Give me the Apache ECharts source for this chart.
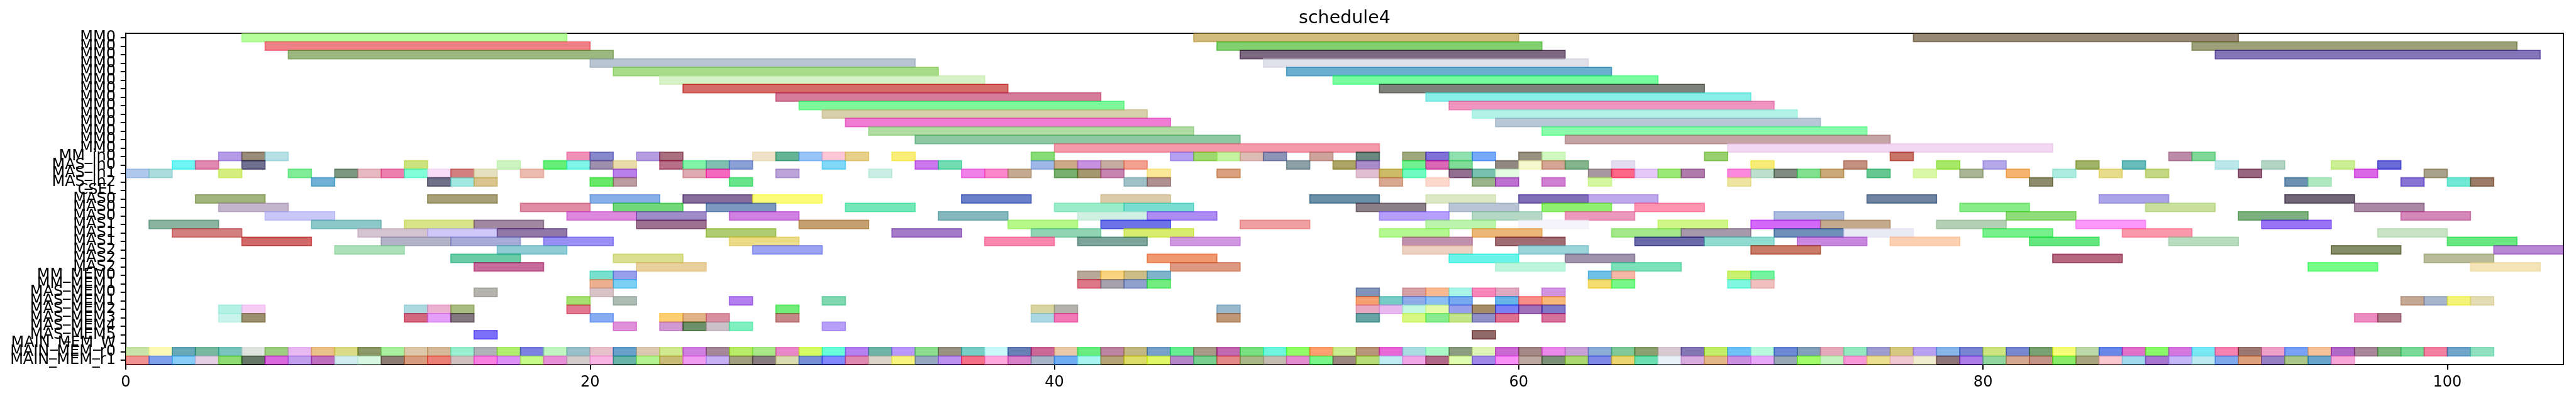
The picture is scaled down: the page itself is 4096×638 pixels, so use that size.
<!DOCTYPE html>
<html><head><meta charset="utf-8">
<script src="https://cdn.jsdelivr.net/npm/echarts@6/dist/echarts.min.js"></script>
<style>html,body{margin:0;padding:0;background:#fff}#chart{width:4096px;height:638px}</style>
</head><body><div id="chart"></div>
<script>
const chartTitle = 'schedule4';
const rowNames = ['MM0','MM0','MM0','MM0','MM0','MM0','MM0','MM0','MM0','MM0','MM0','MM0','MM0','MM0',
  'MM_in0','MAS_in0','MAS_in1','MAS_in2','CSEL','MAS0','MAS0','MAS0','MAS1','MAS1','MAS1','MAS2','MAS2','MAS2',
  'MM_MEM0','MM_MEM1','MAS_MEM0','MAS_MEM1','MAS_MEM2','MAS_MEM3','MAS_MEM4','MAS_MEM5','MAIN_MEM_W','MAIN_MEM_r0','MAIN_MEM_r1'];
const rowDurations = [14,14,14,14,14,14,14,14,14,14,14,14,14,14, 1,1,1,1,1, 3,3,3,3,3,3,3,3,3, 1,1,1,1,1,1,1,1,1,1,1];
const xTickValues = [0,20,40,60,80,100];
const xMax = 105;

const rowStarts = [
  [5,46,77],[6,47,89],[7,48,90],[20,49],[21,50],[23,52],[24,54],[28,56],[29,57],[30,58],[31,59],[32,61],[34,62],[40,69],
  [4,5,6,19,20,22,23,27,28,29,30,31,33,39,45,46,47,48,49,51,53,55,56,57,58,60,61,68,76,88,89],
  [2,3,5,12,16,18,19,20,21,23,24,25,26,30,34,35,39,40,41,42,43,50,52,53,55,56,57,59,60,61,62,64,70,74,78,80,84,86,90,92,95,97],
  [0,1,4,7,9,10,11,12,13,14,15,17,21,24,25,28,32,36,37,38,40,41,42,44,47,53,54,55,57,58,59,63,64,65,66,67,69,70,71,72,73,75,77,79,81,83,85,87,91,96,99],
  [8,13,14,15,20,21,26,43,44,54,56,58,59,61,63,69,82,93,94,98,100,101],
  [],
  [3,13,20,24,27,36,42,51,56,60,63,75,85,93],
  [4,17,21,25,31,40,43,53,57,61,65,79,87,96],
  [6,19,22,26,35,41,44,54,58,62,71,81,91,98],
  [1,8,12,15,22,29,38,42,48,56,60,66,70,73,78,84,92],
  [2,10,13,16,25,33,39,43,54,58,64,67,71,74,80,86,97],
  [5,11,14,18,26,37,41,45,55,59,65,68,72,76,82,88,100],
  [9,16,27,55,60,70,95,102],
  [14,21,44,57,62,83,99],
  [15,22,45,59,64,94,101],
  [20,21,41,42,43,44,63,64,69,70],
  [20,21,41,42,43,44,63,64,69,70],
  [15,20,53,55,56,57,58,59,61],
  [19,21,26,30,53,54,55,56,57,59,60,61,98,99,100,101],
  [4,5,12,13,14,19,28,39,40,47,53,54,55,56,57,58,59,60,61],
  [4,5,12,13,14,20,23,24,25,28,39,40,47,53,55,56,57,58,59,61,96,97],
  [21,23,24,25,26,30],
  [15,58],
  [],
  [0,1,2,3,4,5,6,7,8,9,10,11,12,13,14,15,16,17,18,19,20,21,22,23,24,25,26,27,28,29,30,31,32,33,34,35,36,37,38,39,40,41,42,43,44,45,46,47,48,49,50,51,52,53,54,55,56,57,58,59,60,61,62,63,64,65,66,67,68,69,70,71,72,73,74,75,76,77,78,79,80,81,82,83,84,85,86,87,88,89,90,91,92,93,94,95,96,97,98,99,100,101],
  [0,1,2,3,4,5,6,7,8,9,10,11,12,13,14,15,16,17,18,19,20,21,22,23,24,25,26,27,28,29,30,31,32,33,34,35,36,37,38,39,40,41,42,43,44,45,46,47,48,49,50,51,52,53,54,55,56,57,58,59,60,61,62,63,64,65,66,67,68,69,70,71,72,73,74,75,76,77,78,79,80,81,82,83,84,85,86,87,88,89,90,91,92,93,94,95]
];

const rowColors = [
  ['#b4fc9c','#d0ba7c','#968874'],['#f08088','#80d070','#9ca078'],['#9ab880','#7c6880','#8474b8'],
  ['#b8c4d0','#e0e0ea'],['#a8dc88','#6caed0'],['#d8f2c8','#78fca0'],['#d66c68','#7e827a'],
  ['#d47c9a','#8aeee8'],['#7ef89a','#f094c0'],['#d8d0ac','#b4f4e8'],['#ee7cd2','#b8c8d6'],
  ['#b0dca4','#88fcaa'],['#8ec8a4','#c4a4a4'],['#f49cac','#f2d8f2'],
  ['#b49ce8','#988c78','#b4e0e6','#f090b8','#8888cc','#b49ce0','#a87080','#f0e2c8','#66b496','#99c4f8','#fcc8d8','#e6d08a','#f8ee78','#88dc78','#b4a0f0','#a0d870','#c4f4a0','#dcbcb4','#8c94b8','#cca49c','#6a8880','#a0a880','#8070d8','#90e0b0','#78a8f8','#989080','#d0f8c0','#98d070','#c87468','#bc8ca8','#80d898'],
  ['#70f4f4','#e088b0','#707090','#cce480','#ccf4c0','#66ee78','#80f4e8','#a090b0','#eadcaa','#b87088','#80f4a8','#80c0b0','#8ca0d8','#80d8f8','#cc78ee','#70dcb0','#a0b8e8','#ccaa88','#c890e0','#c4aca0','#f4a090','#8ca0a8','#aca460','#a88cc8','#70f090','#dc68b8','#80dc98','#908880','#f4f8cc','#d4a494','#84b48c','#e4dcf0','#f8ec78','#c49080','#a8e868','#b4a8e8','#a0b468','#68bcbc','#bce8ec','#b4d4c4','#ccf094','#6a6ad8'],
  ['#b0c8ec','#acdcdc','#d4ee80','#80ec98','#7c9880','#e8b8c0','#ee80b0','#80ffd8','#f8dcf8','#d48080','#e4e0c0','#ecbcb0','#b880e8','#e0a8b0','#f468c0','#bca4d8','#c8eee4','#f080e8','#fc88cc','#c4aa90','#78b070','#a49870','#c884b0','#f8e898','#d8a07c','#e0c0d0','#ccbc68','#70fcc0','#947090','#78c0b0','#e4fce4','#a898a0','#fe6888','#e4c8f8','#9ce878','#b07cac','#fc88dc','#bce0cc','#808c80','#80e090','#caa878','#64c890','#daf8a8','#a8b494','#f4b470','#acece0','#e8dc8c','#c4d884','#986080','#dc68e8','#a8a088'],
  ['#70b0d4','#707088','#a0e8e0','#d8c48c','#68e868','#bc9ca0','#68e48c','#a0c0c8','#b09090','#d8a890','#fcd8cc','#98b488','#bc70d0','#d080d0','#d4f8a0','#ece4a0','#8c8c6c','#6c90b0','#b0e8c0','#8874d4','#70e8d4','#9c7c68'],
  [],
  ['#a0b47c','#a8a078','#88b0e8','#846c9c','#fcfc78','#6a80c8','#dcccaa','#6a90a8','#dce8c4','#8070b8','#c0a8ec','#6e84a0','#aca4e8','#706478'],
  ['#c4b4cc','#e08ca4','#70d878','#7c98c0','#74e8b8','#98ecc8','#78dcd0','#8c8088','#b8c4d4','#90f070','#fc94b0','#88ec88','#c8e09c','#a888a4'],
  ['#c8c8f8','#dc88dc','#a08cc8','#d080e0','#84b8bc','#d0f0e4','#ac8cf4','#b4a0fc','#b4d8c4','#ec98bc','#acbce0','#90dc78','#7cb07c','#d488b8'],
  ['#88b4a0','#8cc8c8','#d8e488','#a088a0','#9c7090','#c4a070','#b4f888','#6c74e8','#f0a0a0','#bcf4ac','#f4f4fa','#d0f888','#d468f8','#c4aa8c','#b4d0b4','#fc98fc','#9874f4'],
  ['#d48080','#d4c4d0','#d0c8f8','#9078a8','#b0cc70','#a47cc8','#90d4b4','#d8ec70','#b4f890','#ecb878','#a4e88c','#a898ac','#7090bc','#eaeaf6','#78f08c','#fc98ac','#c8e4c4'],
  ['#d06868','#b4b4c8','#a8acd8','#9890f4','#ecdc88','#fc88b0','#7ca498','#d098e0','#c090ac','#a06c74','#6a6aa8','#90dcd0','#c888e0','#fccfb0','#64e880','#b8dcc0','#68e880'],
  ['#ace0b8','#90ccd4','#9ca4f4','#ecd0c0','#9cd4dc','#c87c68','#848c68','#b888d4'],
  ['#6ccca8','#d8e090','#f09870','#68f4e8','#a094ac','#b46880','#b8bc98'],
  ['#c86c9c','#e8d09c','#dc9880','#bcf4dc','#7ce0b8','#74fc88','#f4e4b8'],
  ['#78e0cc','#98a0ec','#b8a898','#f8d480','#ccbc88','#80b4cc','#70c0e8','#f8b8a8','#ccf070','#74f4a0'],
  ['#ecb090','#7cd0f4','#dc7888','#a4a0ac','#90a0cc','#74ec80','#f4dc70','#78f888','#80f8e0','#f0c0c0'],
  ['#b4b4ac','#d8c4c8','#8094b8','#d4a0a4','#f8b890','#a8f4e8','#f888bc','#e0a8c0','#d094e0'],
  ['#a4e070','#acbcb4','#b480f0','#80d8b0','#f4a070','#78ccc8','#90ace8','#8cc0f4','#78a8f0','#64b4e8','#f88c88','#f8b878','#c4a894','#a8b4cc','#f4f478','#e4dcb4'],
  ['#b4f0e4','#f4ccf4','#acd8e0','#ecb0d0','#a8bc80','#e07890','#70ec78','#d8d4a0','#b4b4ac','#98b8cc','#e8a8c0','#e8b8f0','#c4f8e0','#e4fcac','#98a0ec','#a48c68','#7880f4','#a070b8','#8078c8'],
  ['#c8f4ec','#9c9070','#d46880','#e4a0f8','#847880','#88acf4','#fcd070','#e0b488','#d890a0','#c48888','#acd8e4','#f478b8','#c09878','#68a4a4','#d8f880','#88ec90','#c4e488','#9090c8','#e07090','#d8709c','#ec8cc0','#ac7c88'],
  ['#e090d8','#d098d0','#6c9068','#ccc0c8','#80f0c0','#b8a0f8'],
  ['#7c70f8','#906868'],
  [],
  ['#c8e4a8','#fcf8b8','#68a8b8','#78b8a0','#78c4bc','#e0e4e0','#9ccc80','#e8b8f0','#e8c088','#dcdc88','#8c9868','#a8f0a0','#dcc8a8','#d4b898','#98f0d0','#b0b0b8','#b0ec70','#7c80e0','#c0f4c0','#98c0c8','#e8c0cc','#68a0cc','#dcc8b0','#d0e890','#d080e0','#a48898','#b8ec60',
   '#a8e888','#e888c8','#d8fc60','#68fcd8','#b480f0','#70b4a8','#b898f8','#8cdc90','#989080','#78ccc4','#c8f8f8','#6880b4','#cc6898','#e8c8a8','#68ec80','#bc84a0','#c0b880','#78a0c8','#68ec90','#a89888','#c068b0','#78e080','#6cf4dc','#90fc60','#fca070','#ccec90','#b89478','#e868d8',
   '#a8dce0','#acf8c8','#8c9c80','#e0f4b8','#c868d0','#a48888','#e888e8','#c8a0d8','#8cacd8','#80c898','#8ca070','#d8c8d0','#8478b4','#c0ec68','#70c0f8','#b8f8dc','#6c88d4','#84a0b8','#e4aabc','#94e8c0','#9c9cd0','#d4c880','#b8a0f0','#88b4e8','#7884d0','#cce480',
   '#7888d0','#78a070','#f4fc78','#bcd8a8','#6888e8','#e070c8','#88f868','#d478e0','#78e8f4','#f480b0','#9c7874','#eca0c8','#78a0f4','#f4c098','#b068c8','#a88898','#80b880','#78d898','#f080a0','#70a4c8','#90e0c0'],
  ['#f09090','#80a0ec','#88ccf8','#e4d0e4','#90dc70','#687868','#dc68e0','#c0a0ec','#c070c0','#d0ecf0','#d8f8e4','#8c7c74','#d89c80','#ec8078','#d0c0c0','#f880e0','#dc90f8','#c8fc88','#e890d8','#d4cccc','#f8b4e4','#68b4a8','#b4f490','#c8bc78','#f09cf0','#c8b0f4','#a0a080',
   '#887c80','#d8dcb0','#7890d8','#8088fc','#e088b0','#dcd4c8','#f8f480','#98a8c0','#bc90f0','#f47088','#fca8dc','#d880c8','#a8b4c8','#70acf4','#a8f4f0','#b4a478','#dcdc68','#e0f868','#b488c8','#78d090','#e48888','#a8b888','#c4bcb0','#e48cd0','#78f888','#9c8880','#b8dc78','#c0ecf4',
   '#f0a8e8','#b06888','#e0fcb0','#a088e8','#f890f8','#bca8a0','#7c9078','#acd870','#8088e8','#ecd470','#6ce0b0','#e8f0f8','#d8acdc','#e4b888','#cc90e0','#e8a8f8','#98a8b4','#a0fc68','#c4f4c0','#f898d8','#ece090','#f0c8d4','#f0ecd0','#8c7478','#ac7ce8','#90d4a0',
   '#d4a890','#c49488','#88ec68','#a8a480','#fcc8d0','#a0d8ec','#a878d0','#c4b8f8','#bceaf0','#80a8ec','#dca07c','#9880c4','#acc888','#68a4cc','#f8a8d8']
];

// ---- build ----
const ALPHA = 0.6;
function rgbaOf(hex) {
  const v = [1, 3, 5].map(i => parseInt(hex.substr(i, 2), 16));
  const c = v.map(x => Math.max(0, Math.round(255 - (255 - x) / ALPHA)));
  return 'rgba(' + c.join(',') + ',' + ALPHA + ')';
}
const barData = [];
const barColors = [];
rowStarts.forEach((starts, r) => {
  starts.forEach((s, j) => {
    barData.push([s, s + rowDurations[r], r]);
    barColors.push(rgbaOf((rowColors[r] && rowColors[r][j]) || '#888888'));
  });
});

const FONT = 'DejaVu Sans';
const chart = echarts.init(document.getElementById('chart'), null, { renderer: 'canvas' });
chart.setOption({
  animation: false,
  backgroundColor: '#ffffff',
  graphic: [{
    type: 'text', x: 2138, y: 30, silent: true,
    style: { text: chartTitle, align: 'center', verticalAlign: 'middle', fontSize: 28.5, fontFamily: FONT, fill: '#000' }
  }],
  grid: { left: 200, right: 20, top: 53, bottom: 58, show: true, borderColor: '#000', borderWidth: 1.9, backgroundColor: 'transparent', outerBoundsMode: 'none', containLabel: false },
  xAxis: {
    type: 'value', min: 0, max: xMax,
    axisLine: { show: true, lineStyle: { color: '#000', width: 1.9 } },
    axisTick: { show: true, length: 8.3, lineStyle: { color: '#000', width: 1.9 }, customValues: xTickValues },
    axisLabel: { show: true, fontSize: 24, fontFamily: FONT, color: '#000', margin: 17, customValues: xTickValues, hideOverlap: false },
    splitLine: { show: false }
  },
  yAxis: {
    type: 'category', data: rowNames, inverse: true, boundaryGap: true,
    axisLine: { show: true, lineStyle: { color: '#000', width: 1.9 } },
    axisTick: { show: true, alignWithLabel: true, interval: 0, length: 8.3, lineStyle: { color: '#000', width: 1.9 } },
    axisLabel: { show: true, interval: 0, fontSize: 24, fontFamily: FONT, color: '#000', margin: 16, hideOverlap: false,
      formatter: (v, i) => rowNames[i] },
    splitLine: { show: false }
  },
  series: [{
    type: 'custom',
    clip: true,
    encode: { x: [0, 1], y: 2 },
    data: barData,
    renderItem: function (params, api) {
      const row = api.value(2);
      const p0 = api.coord([api.value(0), row]);
      const p1 = api.coord([api.value(1), row]);
      const h = api.size([0, 1])[1];
      const col = barColors[params.dataIndex];
      return {
        type: 'rect',
        shape: { x: p0[0], y: p0[1] - h / 2, width: p1[0] - p0[0], height: h },
        style: { fill: col, stroke: col, lineWidth: 1.7 }
      };
    }
  }]
});
</script>
</body></html>
